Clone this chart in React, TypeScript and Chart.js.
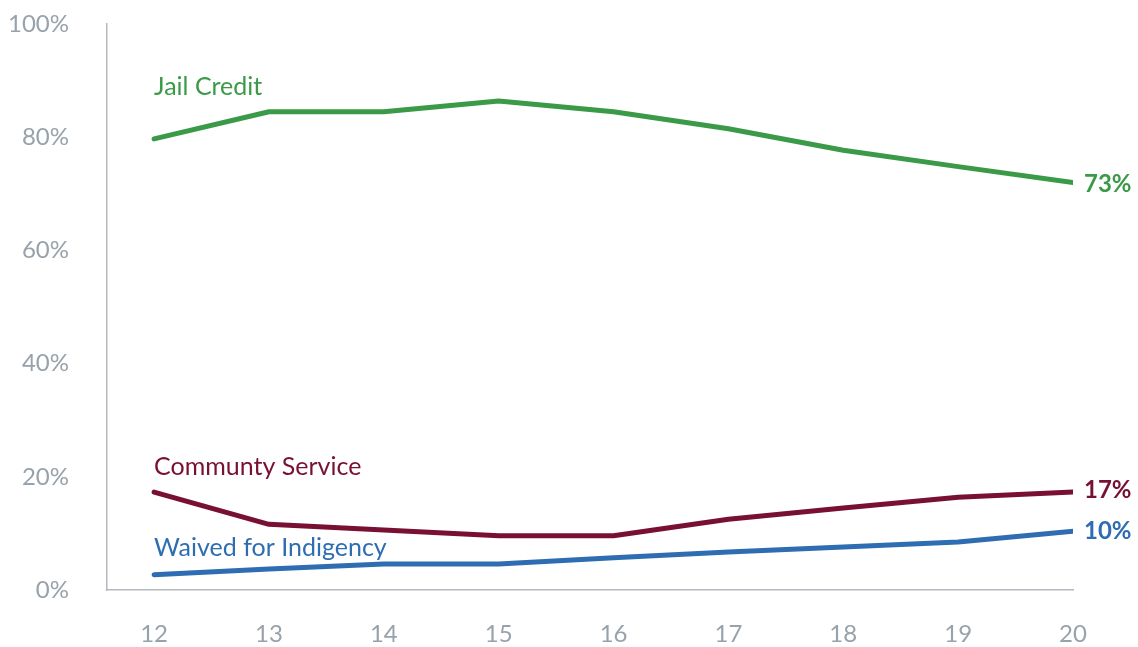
import React, { useEffect, useRef } from "react";
import { Chart, registerables } from "chart.js";

Chart.register(...registerables);

const years = [12, 13, 14, 15, 16, 17, 18, 19, 20];
const jailCredit = [79.7, 84.5, 84.5, 86.4, 84.5, 81.5, 77.7, 74.8, 72.0];
const communityService = [17.3, 11.6, 10.6, 9.6, 9.6, 12.5, 14.5, 16.4, 17.3];
const waivedIndigency = [2.7, 3.7, 4.6, 4.6, 5.7, 6.7, 7.6, 8.5, 10.4];
const seriesNames = ["Jail Credit", "Communty Service", "Waived for Indigency"];
const endLabels = ["73%", "17%", "10%"];
const yTicks = [0, 20, 40, 60, 80, 100];

const COLORS = ["#3a9a48", "#781033", "#2e6db2"];
const NAME_OFFSETS = [-52, -25, -27];
const END_OFFSETS = [2, -2, 0];
const FONT = "Lato, 'Open Sans', sans-serif";

const labelPlugin = {
  id: "seriesLabels",
  afterDatasetsDraw(chart: any) {
    const ctx = chart.ctx;
    ctx.save();
    chart.data.datasets.forEach((ds: any, i: number) => {
      const meta = chart.getDatasetMeta(i);
      const first = meta.data[0];
      const last = meta.data[meta.data.length - 1];
      ctx.fillStyle = COLORS[i];
      ctx.textBaseline = "middle";
      ctx.textAlign = "left";
      ctx.font = `400 25px ${FONT}`;
      ctx.fillText(seriesNames[i], first.x, first.y + NAME_OFFSETS[i]);
      ctx.font = `700 24px ${FONT}`;
      ctx.fillText(endLabels[i], last.x + 11, last.y + END_OFFSETS[i]);
    });
    ctx.restore();
  },
};

export default function App() {
  const ref = useRef<HTMLCanvasElement | null>(null);
  useEffect(() => {
    document.body.style.margin = "0";
    const c = ref.current;
    if (!c) return;
    const mk = (vals: number[], i: number) => ({
      label: seriesNames[i],
      data: vals.map((v, k) => ({ x: years[k], y: v })),
      borderColor: COLORS[i],
      backgroundColor: COLORS[i],
      borderWidth: 5,
      pointRadius: 0,
      borderCapStyle: "round" as const,
      borderJoinStyle: "round" as const,
      tension: 0,
    });
    const chart = new Chart(c, {
      type: "line",
      data: {
        datasets: [mk(jailCredit, 0), mk(communityService, 1), mk(waivedIndigency, 2)],
      },
      options: {
        animation: false,
        responsive: false,
        maintainAspectRatio: false,
        layout: { padding: { top: 24, right: 65, left: 0, bottom: 0 } },
        plugins: { legend: { display: false }, tooltip: { enabled: false } },
        scales: {
          x: {
            type: "linear",
            min: 11.59,
            max: 20,
            grid: { display: false, drawTicks: false },
            border: { display: true, color: "#b4b9bf", width: 1.5 },
            afterBuildTicks(scale: any) {
              scale.ticks = years.map((v) => ({ value: v }));
            },
            ticks: {
              color: "#98a2ab",
              font: { family: FONT, size: 24, weight: 400 as any },
              padding: 30,
              maxRotation: 0,
              callback: (v: any) => String(v),
            },
            afterFit(scale: any) {
              scale.height = 57;
            },
          },
          y: {
            min: 0,
            max: 100,
            grid: { display: false, drawTicks: false },
            border: { display: true, color: "#b4b9bf", width: 1.5 },
            afterBuildTicks(scale: any) {
              scale.ticks = yTicks.map((v) => ({ value: v }));
            },
            ticks: {
              color: "#98a2ab",
              font: { family: FONT, size: 24, weight: 400 as any },
              padding: 38,
              callback: (v: any) => v + "%",
            },
            afterFit(scale: any) {
              scale.width = 107;
              scale.paddingTop = 0;
              scale.paddingBottom = 0;
            },
          },
        },
      },
      plugins: [labelPlugin],
    });
    return () => chart.destroy();
  }, []);
  return (
    <div style={{ width: 1138, height: 647, background: "#fff" }}>
      <canvas ref={ref} width={1138} height={647} style={{ display: "block" }} />
    </div>
  );
}
